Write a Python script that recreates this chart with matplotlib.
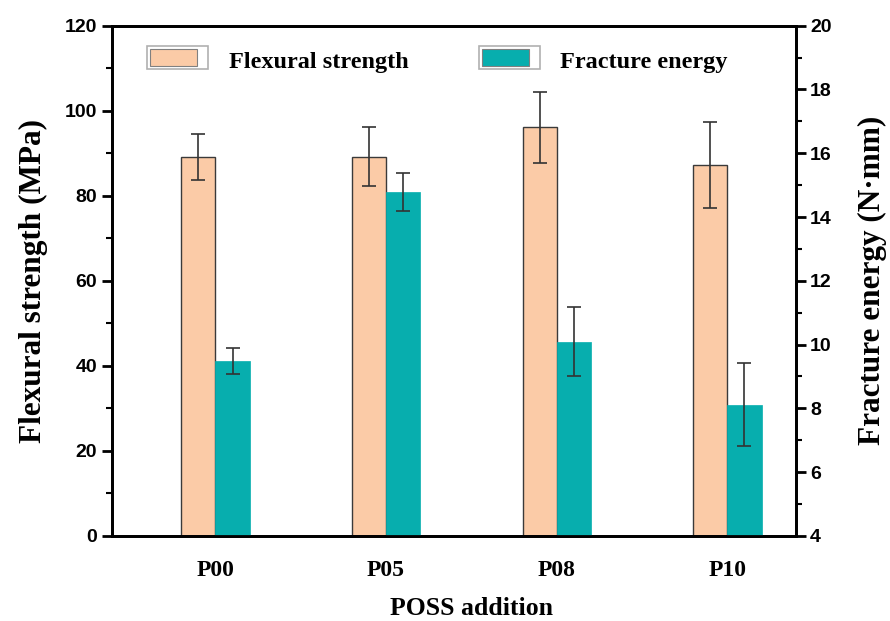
import numpy as np
import matplotlib.pyplot as plt
from matplotlib.patches import Patch, Rectangle
from matplotlib.legend_handler import HandlerBase

# Datos
samples = ['P00', 'P05', 'P08', 'P10']
flexural = [89.2, 89.2, 96.1, 87.2]
flexural_err = [5.4, 6.9, 8.3, 10.1]
fracture = [9.49, 14.78, 10.09, 8.11]
fracture_err = [0.40, 0.60, 1.09, 1.30]

peach = '#FBCBA7'
teal = '#07AEAE'
serif = 'Liberation Serif'
sans = 'Liberation Sans'

plt.rcParams['font.family'] = sans
plt.rcParams['font.weight'] = 'bold'


# Caja de leyenda tipo Origin: marco gris y relleno a la izquierda
class OriginBox(HandlerBase):
    def create_artists(self, legend, orig, xd, yd, width, height, fontsize, trans):
        outer = Rectangle((xd, yd - 0.1 * height), width, height * 1.2, facecolor='white',
                          edgecolor='#b0b0b0', linewidth=1.2, transform=trans)
        inner = Rectangle((xd + 0.05 * width, yd + 0.07 * height), width * 0.77, height * 0.86,
                          facecolor=orig.get_facecolor(), edgecolor='#808080',
                          linewidth=0.8, transform=trans)
        return [outer, inner]


fig = plt.figure(figsize=(8.9, 6.21), dpi=100)
ax = fig.add_axes([0.1255, 0.137, 0.7685, 0.8216])
ax2 = ax.twinx()

x = np.arange(len(samples))
w = 0.2

ax.bar(x - w / 2, flexural, w, color=peach, edgecolor='#3a3a3a', linewidth=1.0, zorder=2)
ax.errorbar(x - w / 2, flexural, yerr=flexural_err, fmt='none', ecolor='#333333',
            elinewidth=1.2, capsize=5, capthick=1.2, zorder=3)

ax2.bar(x + w / 2, fracture, w, color=teal, edgecolor=teal, linewidth=0.5, zorder=2)
ax2.errorbar(x + w / 2, fracture, yerr=fracture_err, fmt='none', ecolor='#333333',
             elinewidth=1.2, capsize=5, capthick=1.2, zorder=3)

ax.set_xlim(-0.608, 3.4)
ax.set_ylim(0, 120)
ax2.set_ylim(4, 20)

ax.set_yticks(np.arange(0, 121, 20))
ax.set_yticks(np.arange(10, 120, 20), minor=True)
ax2.set_yticks(np.arange(4, 21, 2))
ax2.set_yticks(np.arange(5, 20, 2), minor=True)

ax.set_xticks(x)
ax.set_xticklabels(samples, fontfamily=serif, fontweight='bold', fontsize=17)
ax.tick_params(axis='x', length=0, pad=17)
for a in (ax, ax2):
    a.tick_params(axis='y', which='major', direction='out', length=7, width=2, labelsize=14)
    a.tick_params(axis='y', which='minor', direction='out', length=4, width=1.5)
    for s in a.spines.values():
        s.set_linewidth(2)

ax.set_ylabel('Flexural strength (MPa)', fontfamily=serif, fontweight='bold', fontsize=22.5, labelpad=12)
ax2.set_ylabel('Fracture energy (N·mm)', fontfamily=serif, fontweight='bold', fontsize=22.5, labelpad=19)
ax.set_xlabel('POSS addition', fontfamily=serif, fontweight='bold', fontsize=18.5)
ax.xaxis.set_label_coords(0.5265, -0.12)

handles = [Patch(facecolor=peach), Patch(facecolor=teal)]
ax2.legend(handles, ['Flexural strength', 'Fracture energy'], ncol=2, frameon=False,
           loc='upper left', bbox_to_anchor=(0.02, 0.995),
           prop={'family': serif, 'weight': 'bold', 'size': 17.5},
           handler_map={Patch: OriginBox()},
           handlelength=2.5, handleheight=0.85, handletextpad=0.85, columnspacing=2.9)

fig.savefig('out.png', dpi=100)
